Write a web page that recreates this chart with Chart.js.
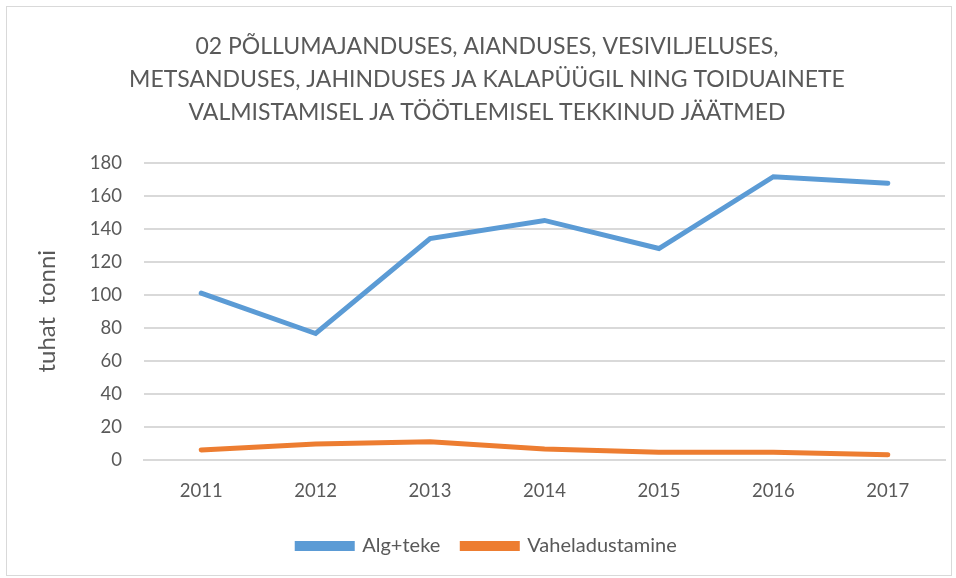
<!DOCTYPE html>
<html>
<head>
<meta charset="utf-8">
<script src="https://cdn.jsdelivr.net/npm/chart.js@4"></script>
<style>
  html, body { margin: 0; padding: 0; background: #fff; }
  #wrap { position: absolute; left: 6px; top: 6px; width: 946px; height: 570px; border: 1px solid #d9d9d9; box-sizing: border-box; }
  canvas { display: block; }
</style>
</head>
<body>
<div id="wrap"><canvas id="graafik"></canvas></div>
<script>
// andmed
const aastad = ['2011', '2012', '2013', '2014', '2015', '2016', '2017'];
const algTeke = [101, 76.5, 134, 145, 128, 171.5, 167.5];
const vaheladustamine = [6, 9.5, 11, 6.5, 4.5, 4.5, 3];
const pealkiri = [
    '02 PÕLLUMAJANDUSES, AIANDUSES, VESIVILJELUSES,',
    'METSANDUSES, JAHINDUSES JA KALAPÜÜGIL NING TOIDUAINETE',
    'VALMISTAMISEL JA TÖÖTLEMISEL TEKKINUD JÄÄTMED'
];

const hall = '#595959';
Chart.defaults.font.family = 'Lato, "Open Sans", sans-serif';
Chart.defaults.color = hall;

const ctx = document.getElementById('graafik').getContext('2d');
new Chart(ctx, {
    type: 'line',
    data: {
        labels: aastad,
        datasets: [{
            label: 'Alg+teke',
            data: algTeke,
            borderColor: '#5B9BD5',
            backgroundColor: '#5B9BD5',
            borderWidth: 5,
            pointRadius: 0,
            borderCapStyle: 'round',
            tension: 0
        }, {
            label: 'Vaheladustamine',
            data: vaheladustamine,
            borderColor: '#ED7D31',
            backgroundColor: '#ED7D31',
            borderWidth: 5,
            pointRadius: 0,
            borderCapStyle: 'round',
            tension: 0
        }]
    },
    options: {
        responsive: true,
        maintainAspectRatio: false,
        animation: false,
        layout: { padding: { left: 22, right: 6, top: 8, bottom: 9 } },
        plugins: {
            title: {
                display: true,
                text: pealkiri,
                color: hall,
                font: { size: 23, weight: 'normal', lineHeight: 1.43 },
                padding: { top: 15, bottom: 34 }
            },
            legend: {
                position: 'bottom',
                labels: {
                    color: hall,
                    font: { size: 20 },
                    boxWidth: 55,
                    boxHeight: 5,
                    padding: 22,
                    usePointStyle: false
                }
            },
            tooltip: { enabled: false }
        },
        scales: {
            x: {
                offset: true,
                grid: { display: false },
                border: { color: '#d9d9d9', width: 2 },
                ticks: { font: { size: 18.5 }, color: hall, padding: 12 }
            },
            y: {
                min: 0,
                max: 180,
                ticks: { stepSize: 20, font: { size: 18.5 }, color: hall, padding: 22 },
                grid: { color: '#d9d9d9', lineWidth: 2, drawTicks: false },
                border: { display: false },
                title: {
                    display: true,
                    text: 'tuhat  tonni',
                    color: hall,
                    font: { size: 24 },
                    padding: { bottom: 6 }
                }
            }
        }
    }
});
</script>
</body>
</html>
